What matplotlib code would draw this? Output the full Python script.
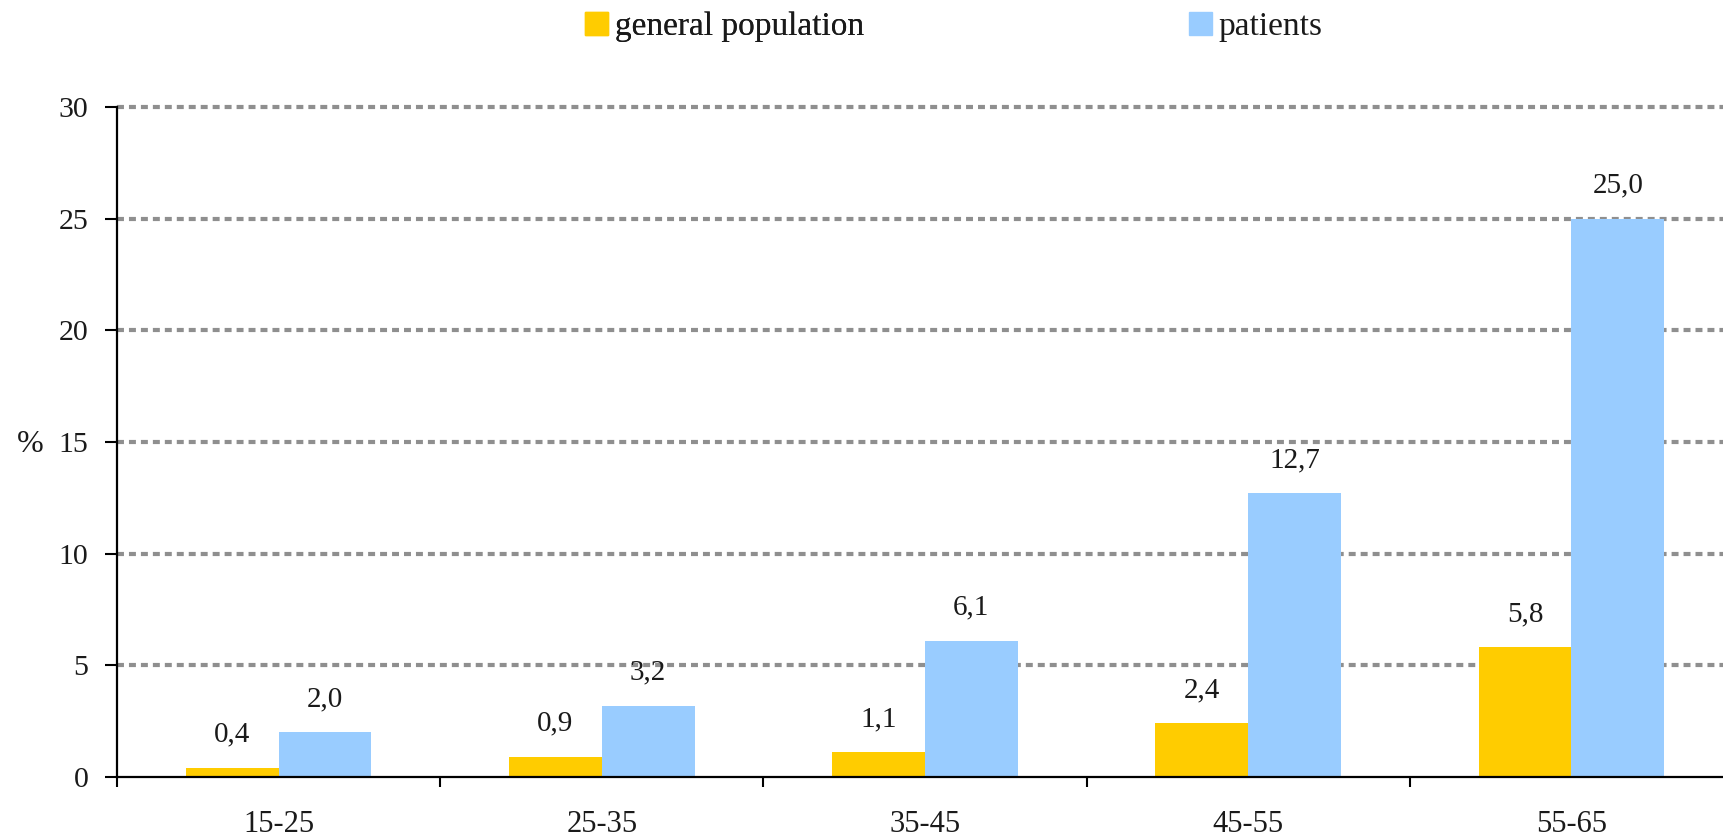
import matplotlib
matplotlib.use("Agg")
import matplotlib.pyplot as plt
import numpy as np

categories = ["15-25", "25-35", "35-45", "45-55", "55-65"]
general_population = [0.4, 0.9, 1.1, 2.4, 5.8]
patients = [2.0, 3.2, 6.1, 12.7, 25.0]
series_names = ["general population", "patients"]
yticks = [0, 5, 10, 15, 20, 25, 30]

plt.rcParams['font.family'] = ['Liberation Serif', 'DejaVu Serif']

W, H = 1723, 838
fig = plt.figure(figsize=(W / 100, H / 100), dpi=100)
ax = fig.add_axes([117 / W, 61 / H, (1733 - 117) / W, 670 / H])

x = np.arange(len(categories))
bw = 0.287
c1, c2 = "#FFCC00", "#99CCFF"
b1 = ax.bar(x - bw / 2, general_population, bw, color=c1, zorder=3, label=series_names[0])
b2 = ax.bar(x + bw / 2, patients, bw, color=c2, zorder=3, label=series_names[1])

def fmt(v):
    return f"{v:.1f}".replace(".", ",")

for bars, vals in ((b1, general_population), (b2, patients)):
    for r, v in zip(bars, vals):
        ax.annotate(fmt(v), (r.get_x() + r.get_width() / 2, v), xytext=(0, 24),
                    textcoords="offset points", ha="center", va="center", fontsize=21,
                    color="#1a1a1a")

ax.set_xlim(-0.5, len(categories) - 0.5)
ax.set_ylim(0, 30)
ax.set_yticks(yticks)
ax.set_yticklabels([str(t) for t in yticks])
ax.tick_params(axis="y", direction="out", length=8.6, width=1.5, pad=12, labelsize=21.5,
               labelcolor="#1a1a1a")
ax.set_xticks(x)
ax.set_xticklabels(categories)
ax.tick_params(axis="x", which="major", length=0, pad=24, labelsize=22, labelcolor="#1a1a1a")
ax.set_xticks(np.arange(len(categories)) - 0.5, minor=True)
ax.tick_params(axis="x", which="minor", direction="out", length=7.5, width=1.5)

for s in ("top", "right"):
    ax.spines[s].set_visible(False)
for s in ("left", "bottom"):
    ax.spines[s].set_linewidth(1.6)
    ax.spines[s].set_zorder(4)

ax.yaxis.grid(True, color="#8f8f8f", linewidth=3.0, linestyle=(0, (1.67, 1.2)), zorder=0)
ax.set_axisbelow(True)
gls = ax.get_ygridlines()
for gl in gls:
    gl.set_clip_on(False)
gls[0].set_visible(False)

fig.text(30 / W, 1 - 444 / H, "%", ha="center", va="center", fontsize=23, color="#1a1a1a")

# legend
handles = [plt.Rectangle((0, 0), 1, 1, color=c1), plt.Rectangle((0, 0), 1, 1, color=c2)]
common = dict(frameon=False, fontsize=24, handlelength=0.69, handleheight=0.69,
              handletextpad=0.2, borderpad=0, borderaxespad=0, labelcolor="#1a1a1a")
leg1 = fig.legend([handles[0]], [series_names[0]], loc="center left",
                  bbox_to_anchor=(585 / W, 1 - 27 / H), **common)
leg2 = fig.legend([handles[1]], [series_names[1]], loc="center left",
                  bbox_to_anchor=(1189 / W, 1 - 27 / H), **common)
fig.add_artist(leg1)

fig.savefig("out.png", dpi=100)
